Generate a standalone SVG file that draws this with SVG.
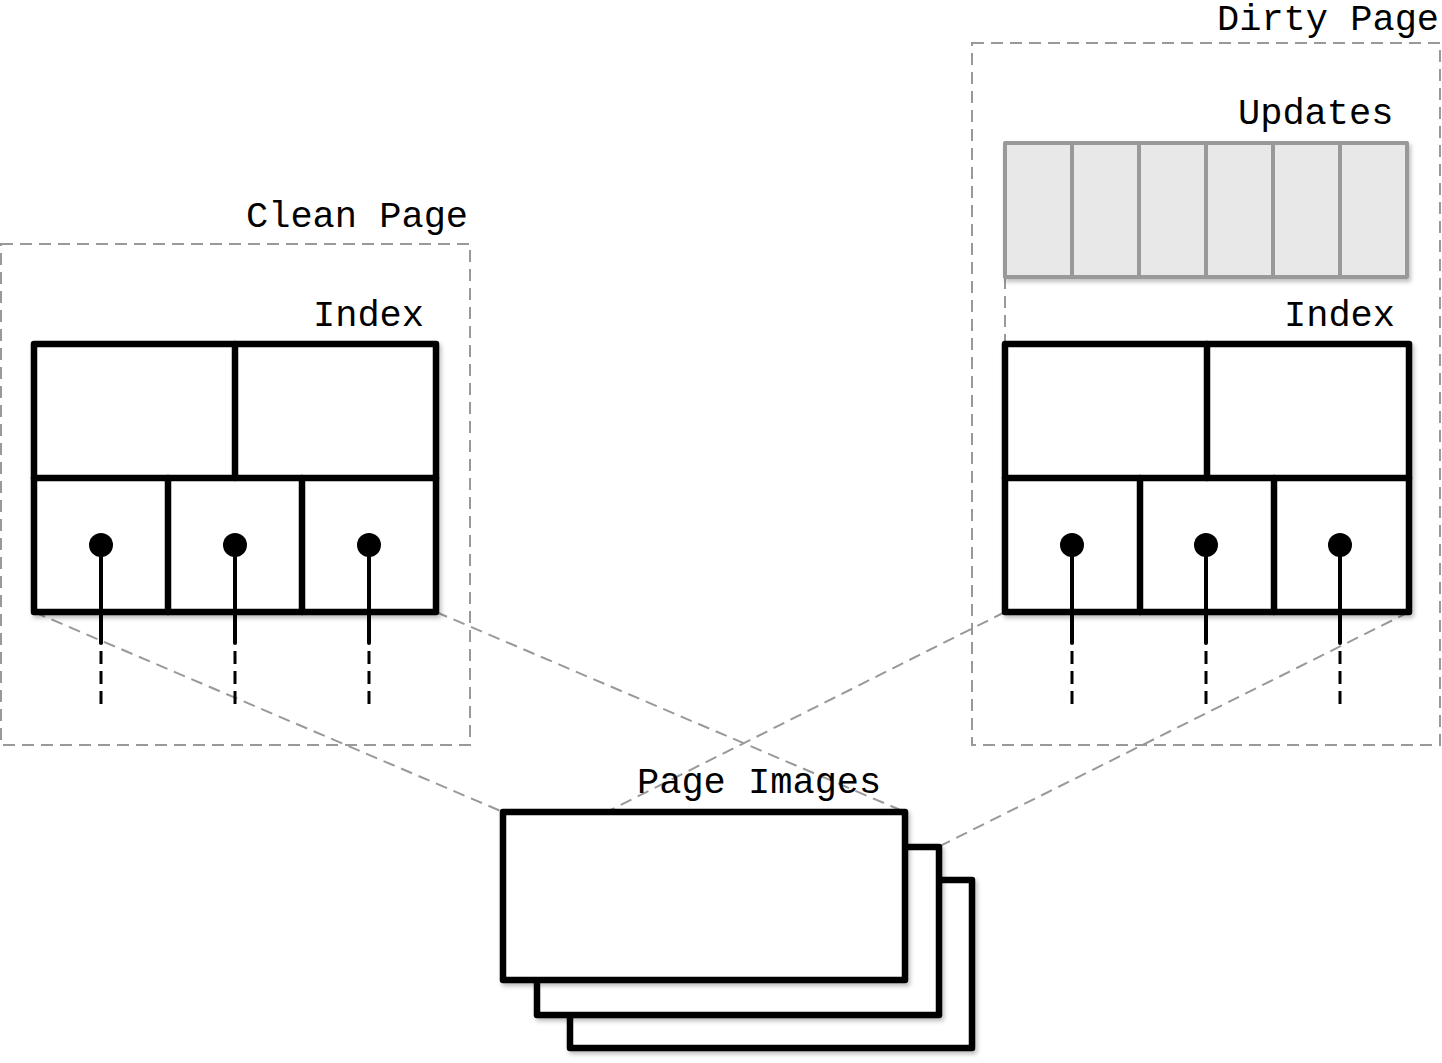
<svg xmlns="http://www.w3.org/2000/svg" width="1442" height="1063" viewBox="0 0 1442 1063">
<style>
.lbl{font-family:"Liberation Mono","DejaVu Sans Mono",monospace;font-size:37px;fill:#000}
.frame{fill:none;stroke:#999;stroke-width:2;stroke-dasharray:12 7}
.conn{fill:none;stroke:#999;stroke-width:2;stroke-dasharray:12 7}
.box{fill:#fff;stroke:#000;stroke-width:6.5;stroke-linejoin:round;stroke-linecap:round}
.ln{stroke:#000;stroke-width:6.5;stroke-linecap:round}
.upd{fill:#e8e8e8;stroke:#999;stroke-width:4;stroke-linejoin:round}
.updl{stroke:#999;stroke-width:4}
.stem{stroke:#000;stroke-width:4;stroke-linecap:round}
.dstem{stroke:#000;stroke-width:3;stroke-dasharray:13 7}
</style>
<defs>
<filter id="sh" x="-10%" y="-10%" width="125%" height="125%">
<feDropShadow dx="2" dy="3" stdDeviation="2" flood-color="#000" flood-opacity="0.25"/>
</filter>
</defs>
<rect width="1442" height="1063" fill="#fff"/>

<g id="clean-page">
<rect class="frame" x="1" y="244" width="469" height="501"/>
<text class="lbl" x="246" y="227">Clean Page</text>
</g>

<g id="dirty-page">
<rect class="frame" x="972" y="43" width="468" height="702"/>
<text class="lbl" x="1217" y="30">Dirty Page</text>
</g>

<g id="connectors">
<line class="conn" x1="34" y1="612" x2="503" y2="812"/>
<line class="conn" x1="436" y1="612" x2="905" y2="812"/>
<line class="conn" x1="1005" y1="612" x2="537" y2="847"/>
<line class="conn" x1="1409" y1="612" x2="938" y2="847"/>
<line class="conn" x1="1005" y1="277" x2="1005" y2="344"/>
</g>

<g id="updates">
<text class="lbl" x="1238" y="124">Updates</text>
<rect class="upd" x="1005" y="143" width="402" height="134" filter="url(#sh)"/>
<line class="updl" x1="1072" y1="143" x2="1072" y2="277"/>
<line class="updl" x1="1139" y1="143" x2="1139" y2="277"/>
<line class="updl" x1="1206" y1="143" x2="1206" y2="277"/>
<line class="updl" x1="1273" y1="143" x2="1273" y2="277"/>
<line class="updl" x1="1340" y1="143" x2="1340" y2="277"/>
</g>

<g id="clean-index">
<text class="lbl" x="313" y="326">Index</text>
<rect class="box" x="34" y="344" width="402" height="268" filter="url(#sh)"/>
<line class="ln" x1="235" y1="344" x2="235" y2="478"/>
<line class="ln" x1="34" y1="478" x2="436" y2="478"/>
<line class="ln" x1="168" y1="478" x2="168" y2="612"/>
<line class="ln" x1="302" y1="478" x2="302" y2="612"/>
<circle cx="101" cy="545" r="12"/>
<circle cx="235" cy="545" r="12"/>
<circle cx="369" cy="545" r="12"/>
<line class="stem" x1="101" y1="545" x2="101" y2="643"/>
<line class="stem" x1="235" y1="545" x2="235" y2="643"/>
<line class="stem" x1="369" y1="545" x2="369" y2="643"/>
<line class="dstem" x1="101" y1="651" x2="101" y2="709"/>
<line class="dstem" x1="235" y1="651" x2="235" y2="709"/>
<line class="dstem" x1="369" y1="651" x2="369" y2="709"/>
</g>

<g id="dirty-index">
<text class="lbl" x="1284" y="326">Index</text>
<rect class="box" x="1005" y="344" width="404" height="268" filter="url(#sh)"/>
<line class="ln" x1="1207" y1="344" x2="1207" y2="478"/>
<line class="ln" x1="1005" y1="478" x2="1409" y2="478"/>
<line class="ln" x1="1140" y1="478" x2="1140" y2="612"/>
<line class="ln" x1="1274" y1="478" x2="1274" y2="612"/>
<circle cx="1072" cy="545" r="12"/>
<circle cx="1206" cy="545" r="12"/>
<circle cx="1340" cy="545" r="12"/>
<line class="stem" x1="1072" y1="545" x2="1072" y2="643"/>
<line class="stem" x1="1206" y1="545" x2="1206" y2="643"/>
<line class="stem" x1="1340" y1="545" x2="1340" y2="643"/>
<line class="dstem" x1="1072" y1="651" x2="1072" y2="709"/>
<line class="dstem" x1="1206" y1="651" x2="1206" y2="709"/>
<line class="dstem" x1="1340" y1="651" x2="1340" y2="709"/>
</g>

<g id="page-images">
<rect class="box" x="570" y="880" width="402" height="168" filter="url(#sh)"/>
<rect class="box" x="537" y="847" width="402" height="168" filter="url(#sh)"/>
<rect class="box" x="503" y="812" width="402" height="168" filter="url(#sh)"/>
<text class="lbl" x="637" y="793">Page Images</text>
</g>
</svg>
